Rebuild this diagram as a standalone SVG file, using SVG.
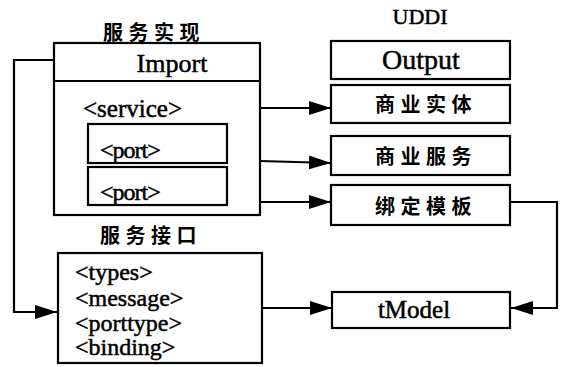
<svg xmlns="http://www.w3.org/2000/svg" width="564" height="367" viewBox="0 0 564 367">
  <style>
    .box { fill: #fff; stroke: #000; stroke-width: 2.2; }
    .line { fill: none; stroke: #000; stroke-width: 2.2; }
    .en { font-family: "Liberation Serif", "Times New Roman", serif; fill: #000; stroke: #000; stroke-width: 0.5; }
    .cn { font-family: "Noto Sans CJK SC", "Noto Sans", sans-serif; font-weight: bold; fill: #000; font-size: 20px; letter-spacing: 5.5px; }
  </style>
  <defs>
    <marker id="arrow" markerUnits="userSpaceOnUse" markerWidth="24" markerHeight="16" refX="22" refY="8" orient="auto">
      <path d="M0,1 L22,8 L0,15 Z" fill="#000"/>
    </marker>
  </defs>
  <rect width="564" height="367" fill="#fff"/>

  <!-- headings -->
  <text class="cn" x="103" y="40">服务实现</text>
  <text class="en" x="420" y="24" font-size="22" text-anchor="middle">UDDI</text>
  <text class="cn" x="100" y="243">服务接口</text>

  <!-- service implementation -->
  <g id="impl">
    <rect class="box" x="54" y="43" width="206" height="172"/>
    <line class="line" x1="54" y1="81" x2="260" y2="81"/>
    <text class="en" x="172" y="72" font-size="26" text-anchor="middle">Import</text>
    <text class="en" x="83" y="117" font-size="25">&lt;service&gt;</text>
  </g>
  <g id="port1">
    <rect class="box" x="88" y="124" width="139" height="39"/>
    <text class="en" x="100" y="158" font-size="24" letter-spacing="-1">&lt;port&gt;</text>
  </g>
  <g id="port2">
    <rect class="box" x="88" y="167" width="139" height="38"/>
    <text class="en" x="100" y="200" font-size="24" letter-spacing="-1">&lt;port&gt;</text>
  </g>

  <!-- service interface -->
  <g id="iface">
    <rect class="box" x="58" y="253" width="204" height="110"/>
    <text class="en" x="75" y="280" font-size="24">&lt;types&gt;</text>
    <text class="en" x="75" y="306" font-size="24">&lt;message&gt;</text>
    <text class="en" x="75" y="331" font-size="24">&lt;porttype&gt;</text>
    <text class="en" x="75" y="355" font-size="24">&lt;binding&gt;</text>
  </g>

  <!-- UDDI -->
  <g id="output">
    <rect class="box" x="331" y="41" width="179" height="38"/>
    <text class="en" x="421" y="69" font-size="28" text-anchor="middle">Output</text>
  </g>
  <g id="entity">
    <rect class="box" x="331" y="85" width="179" height="38"/>
    <text class="cn" x="426" y="112" text-anchor="middle">商业实体</text>
  </g>
  <g id="bservice">
    <rect class="box" x="331" y="136" width="179" height="39"/>
    <text class="cn" x="426" y="164" text-anchor="middle">商业服务</text>
  </g>
  <g id="binding">
    <rect class="box" x="331" y="185" width="179" height="40"/>
    <text class="cn" x="426" y="214" text-anchor="middle">绑定模板</text>
  </g>
  <g id="tmodel">
    <rect class="box" x="332" y="292" width="178" height="36"/>
    <text class="en" x="414" y="318" font-size="25" text-anchor="middle">tModel</text>
  </g>

  <!-- connectors -->
  <g id="connectors">
    <polyline class="line" points="54,60 14,60 14,312 57,312" marker-end="url(#arrow)"/>
    <line class="line" x1="260" y1="108" x2="331" y2="108" marker-end="url(#arrow)"/>
    <polyline class="line" points="260,161 331,163" marker-end="url(#arrow)"/>
    <line class="line" x1="260" y1="202" x2="331" y2="202" marker-end="url(#arrow)"/>
    <line class="line" x1="262" y1="308" x2="332" y2="308" marker-end="url(#arrow)"/>
    <polyline class="line" points="510,202 557,202 557,308 511,308" marker-end="url(#arrow)"/>
  </g>
</svg>
